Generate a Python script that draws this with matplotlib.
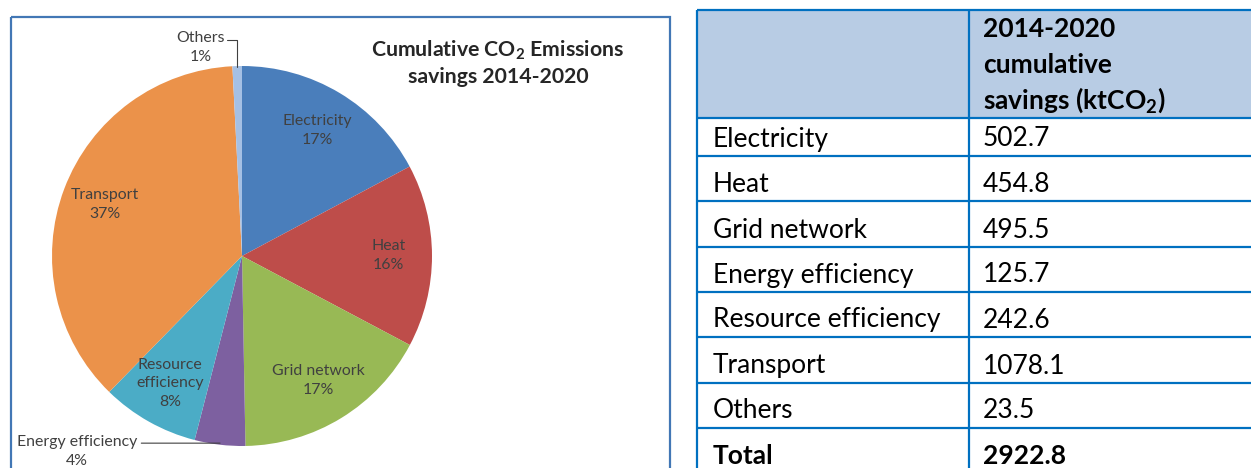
"""Pie of cumulative CO2 savings 2014-2020 plus the matching table."""

import matplotlib

matplotlib.use("Agg")
import matplotlib.pyplot as plt
import numpy as np
from matplotlib.patches import Rectangle

plt.rcParams["font.family"] = ["Lato", "DejaVu Sans"]
plt.rcParams["mathtext.fontset"] = "custom"
plt.rcParams["mathtext.rm"] = "Lato"
plt.rcParams["mathtext.bf"] = "Lato:bold"

# data
sectors = ["Electricity", "Heat", "Grid network", "Energy efficiency",
           "Resource efficiency", "Transport", "Others"]
pie_names = ["Electricity", "Heat", "Grid network", "Energy efficiency",
             "Resource\nefficiency", "Transport", "Others"]
savings = [502.7, 454.8, 495.5, 125.7, 242.6, 1078.1, 23.5]
total_label = "Total"
total_value = 2922.8
header_lines = ["2014-2020", "cumulative", "savings (ktCO$_\\mathbf{2}$)"]
title_text = "Cumulative CO$_\\mathbf{2}$ Emissions\nsavings 2014-2020"

colors = ["#4A7EBB", "#BE4D4A", "#98B955", "#7D60A0", "#4BACC6", "#EB924A", "#A5C0E4"]
outside = {"Energy efficiency", "Others"}

W, H = 1251, 468
fig = plt.figure(figsize=(W / 100, H / 100), dpi=100)
ax = fig.add_axes([0, 0, 1, 1])
ax.set_xlim(0, W)
ax.set_ylim(H, 0)
ax.axis("off")

# left panel frame
ax.add_patch(Rectangle((11, 16.5), 659, 470, fill=False, edgecolor="#4277B5", lw=1.6))
ax.text(498, 63, title_text, ha="center", va="center", fontsize=15.3, fontweight="bold",
        color="#262626", linespacing=1.3)

# pie
cx, cy, r = 242, 256, 190
pax = fig.add_axes([(cx - r) / W, (H - cy - r) / H, 2 * r / W, 2 * r / H])
total = sum(savings)
labels = []
for name, v in zip(pie_names, savings):
    labels.append("" if name in outside else f"{name}\n{round(v / total * 100)}%")
lab_style = dict(fontsize=11.4, color="#404040", linespacing=1.45)
wedges, texts = pax.pie(savings, labels=labels, colors=colors, startangle=90,
                        counterclock=False, labeldistance=0.77,
                        wedgeprops=dict(linewidth=0),
                        textprops=dict(ha="center", va="center", **lab_style))
pax.set_xlim(-1, 1)
pax.set_ylim(-1, 1)

for w, name, v in zip(wedges, pie_names, savings):
    if name not in outside:
        continue
    mid = np.deg2rad((w.theta1 + w.theta2) / 2)
    edge = (np.cos(mid), np.sin(mid))
    pct = f"{name}\n{round(v / total * 100)}%"
    if name == "Energy efficiency":
        pax.text(-0.868, -1.03, pct, ha="center", va="center", clip_on=False, **lab_style)
        pax.annotate("", xy=(edge[0] * 0.99, -0.985), xytext=(-0.53, -0.985),
                     annotation_clip=False,
                     arrowprops=dict(arrowstyle="-", color="#404040", lw=0.8,
                                     shrinkA=0, shrinkB=0))
    else:
        pax.text(-0.216, 1.095, pct, ha="center", va="center", clip_on=False, **lab_style)
        pax.annotate("", xy=(edge[0], edge[1] * 0.995), xytext=(-0.08, 1.135),
                     annotation_clip=False,
                     arrowprops=dict(arrowstyle="-", color="#404040", lw=0.8,
                                     shrinkA=0, shrinkB=0,
                                     connectionstyle="angle,angleA=0,angleB=90,rad=0"))

# table
left, divider, right = 697, 969, 1262
top, head_bottom = 9.5, 118
edges = [118, 156, 201, 247, 292, 337, 383, 428, 473.5]
header_baselines = [36.7, 72.7, 108.3]
line_c = "#0070C0"
fs = 19

ax.add_patch(Rectangle((left, top), right - left, head_bottom - top,
                       facecolor="#B8CCE4", edgecolor="none"))
for txt, yb in zip(header_lines, header_baselines):
    ax.text(divider + 14, yb, txt, ha="left", va="baseline", fontsize=fs,
            fontweight="bold", color="black")

rows = [(s, f"{v:.1f}", "normal") for s, v in zip(sectors, savings)]
rows.append((total_label, f"{total_value:.1f}", "bold"))
for i, (name, val, wt) in enumerate(rows):
    base = edges[i + 1] - 9.5
    ax.text(left + 16, base, name, ha="left", va="baseline", fontsize=fs,
            fontweight=wt, color="black")
    ax.text(divider + 14, base, val, ha="left", va="baseline", fontsize=fs,
            fontweight=wt, color="black")

ax.hlines([top] + edges, left, right, colors=line_c, lw=1.6)
ax.vlines([left, divider], top, edges[-1], colors=line_c, lw=1.6)

fig.savefig("out.png", dpi=100)
